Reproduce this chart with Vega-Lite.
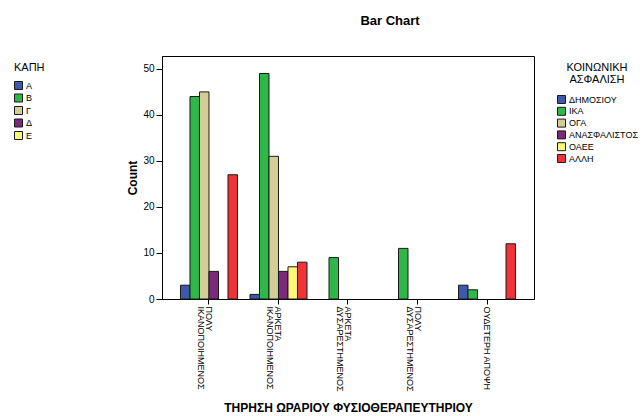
{
  "$schema": "https://vega.github.io/schema/vega-lite/v6.json",
  "autosize": {"type": "none"},
  "width": 372,
  "height": 243,
  "padding": {"left": 162, "top": 56, "right": 108, "bottom": 117},
  "background": "white",
  "config": {
    "font": "Liberation Sans",
    "view": {"fill": "#F0F0F0", "stroke": "#000000", "strokeWidth": 1}
  },
  "title": {"text": "Bar Chart", "fontSize": 13, "fontWeight": "bold", "font": "Liberation Sans", "color": "#000000", "anchor": "middle", "dx": 42, "offset": 28},
  "datasets": {
    "bars": [
      {"satisfaction": "ΠΟΛΥ ΙΚΑΝΟΠΟΙΗΜΕΝΟΣ", "insurance": "ΔΗΜΟΣΙΟΥ", "count": 3},
      {"satisfaction": "ΠΟΛΥ ΙΚΑΝΟΠΟΙΗΜΕΝΟΣ", "insurance": "ΙΚΑ", "count": 44},
      {"satisfaction": "ΠΟΛΥ ΙΚΑΝΟΠΟΙΗΜΕΝΟΣ", "insurance": "ΟΓΑ", "count": 45},
      {"satisfaction": "ΠΟΛΥ ΙΚΑΝΟΠΟΙΗΜΕΝΟΣ", "insurance": "ΑΝΑΣΦΑΛΙΣΤΟΣ", "count": 6},
      {"satisfaction": "ΠΟΛΥ ΙΚΑΝΟΠΟΙΗΜΕΝΟΣ", "insurance": "ΑΛΛΗ", "count": 27},
      {"satisfaction": "ΑΡΚΕΤΑ ΙΚΑΝΟΠΟΙΗΜΕΝΟΣ", "insurance": "ΔΗΜΟΣΙΟΥ", "count": 1},
      {"satisfaction": "ΑΡΚΕΤΑ ΙΚΑΝΟΠΟΙΗΜΕΝΟΣ", "insurance": "ΙΚΑ", "count": 49},
      {"satisfaction": "ΑΡΚΕΤΑ ΙΚΑΝΟΠΟΙΗΜΕΝΟΣ", "insurance": "ΟΓΑ", "count": 31},
      {"satisfaction": "ΑΡΚΕΤΑ ΙΚΑΝΟΠΟΙΗΜΕΝΟΣ", "insurance": "ΑΝΑΣΦΑΛΙΣΤΟΣ", "count": 6},
      {"satisfaction": "ΑΡΚΕΤΑ ΙΚΑΝΟΠΟΙΗΜΕΝΟΣ", "insurance": "ΟΑΕΕ", "count": 7},
      {"satisfaction": "ΑΡΚΕΤΑ ΙΚΑΝΟΠΟΙΗΜΕΝΟΣ", "insurance": "ΑΛΛΗ", "count": 8},
      {"satisfaction": "ΑΡΚΕΤΑ ΔΥΣΑΡΕΣΤΗΜΕΝΟΣ", "insurance": "ΙΚΑ", "count": 9},
      {"satisfaction": "ΠΟΛΥ ΔΥΣΑΡΕΣΤΗΜΕΝΟΣ", "insurance": "ΙΚΑ", "count": 11},
      {"satisfaction": "ΟΥΔΕΤΕΡΗ ΑΠΟΨΗ", "insurance": "ΔΗΜΟΣΙΟΥ", "count": 3},
      {"satisfaction": "ΟΥΔΕΤΕΡΗ ΑΠΟΨΗ", "insurance": "ΙΚΑ", "count": 2},
      {"satisfaction": "ΟΥΔΕΤΕΡΗ ΑΠΟΨΗ", "insurance": "ΑΛΛΗ", "count": 12}
    ],
    "kapi": [
      {"kapi": "Α"}, {"kapi": "Β"}, {"kapi": "Γ"}, {"kapi": "Δ"}, {"kapi": "Ε"}
    ]
  },
  "layer": [
    {
      "data": {"name": "bars"},
      "mark": {"type": "bar", "stroke": "#1a1a1a", "strokeWidth": 1},
      "encoding": {
        "x": {
          "field": "satisfaction", "type": "nominal",
          "sort": ["ΠΟΛΥ ΙΚΑΝΟΠΟΙΗΜΕΝΟΣ", "ΑΡΚΕΤΑ ΙΚΑΝΟΠΟΙΗΜΕΝΟΣ", "ΑΡΚΕΤΑ ΔΥΣΑΡΕΣΤΗΜΕΝΟΣ", "ΠΟΛΥ ΔΥΣΑΡΕΣΤΗΜΕΝΟΣ", "ΟΥΔΕΤΕΡΗ ΑΠΟΨΗ"],
          "scale": {"paddingInner": 0.18, "paddingOuter": 0.266},
          "axis": {
            "title": "ΤΗΡΗΣΗ ΩΡΑΡΙΟΥ ΦΥΣΙΟΘΕΡΑΠΕΥΤΗΡΙΟΥ",
            "titleFontSize": 12, "titleFontWeight": "bold", "titleColor": "#000000", "titlePadding": 11,
            "labelAngle": 90, "labelAlign": "left", "labelBaseline": "middle",
            "labelFontSize": 9, "labelColor": "#000000", "labelPadding": 2, "labelLineHeight": 8,
            "labelExpr": "datum.label == 'ΟΥΔΕΤΕΡΗ ΑΠΟΨΗ' ? datum.label : split(datum.label, ' ')",
            "tickSize": 5, "tickColor": "#000000", "domainColor": "#000000", "labelLimit": 200
          }
        },
        "xOffset": {
          "field": "insurance", "type": "nominal",
          "scale": {"domain": ["ΔΗΜΟΣΙΟΥ", "ΙΚΑ", "ΟΓΑ", "ΑΝΑΣΦΑΛΙΣΤΟΣ", "ΟΑΕΕ", "ΑΛΛΗ"], "paddingInner": 0, "paddingOuter": 0}
        },
        "y": {
          "field": "count", "type": "quantitative",
          "scale": {"domain": [0, 52.8], "nice": false},
          "axis": {
            "title": "Count", "titleFontSize": 12, "titleFontWeight": "bold", "titleColor": "#000000", "titlePadding": 3,
            "values": [0, 10, 20, 30, 40, 50], "grid": false,
            "labelFontSize": 10, "labelColor": "#000000", "tickSize": 6, "tickColor": "#000000", "domainColor": "#000000", "labelPadding": 2
          }
        },
        "color": {
          "field": "insurance", "type": "nominal",
          "scale": {"domain": ["ΔΗΜΟΣΙΟΥ", "ΙΚΑ", "ΟΓΑ", "ΑΝΑΣΦΑΛΙΣΤΟΣ", "ΟΑΕΕ", "ΑΛΛΗ"], "range": ["#3E58AC", "#2EB848", "#D3CE97", "#7C287D", "#FBF873", "#EF3338"]},
          "legend": {
            "title": ["ΚΟΙΝΩΝΙΚΗ", "ΑΣΦΑΛΙΣΗ"], "orient": "none", "legendX": 395, "legendY": 6,
            "titleFontSize": 11, "titleFontWeight": "normal", "titleColor": "#000000", "titleAnchor": "middle", "titleAlign": "center", "titleLineHeight": 12,
            "labelFontSize": 9, "labelColor": "#000000", "labelLimit": 200, "labelOffset": 3,
            "symbolType": "square", "symbolSize": 64, "symbolStrokeColor": "#1a1a1a", "symbolStrokeWidth": 1, "symbolOpacity": 1,
            "rowPadding": -1.2, "titlePadding": 10
          }
        }
      }
    },
    {
      "data": {"name": "kapi"},
      "mark": {"type": "point", "shape": "square", "filled": true, "opacity": 0},
      "encoding": {
        "fill": {
          "field": "kapi", "type": "nominal",
          "scale": {"domain": ["Α", "Β", "Γ", "Δ", "Ε"], "range": ["#3E58AC", "#2EB848", "#D3CE97", "#7C287D", "#FBF873"]},
          "legend": {
            "title": "ΚΑΠΗ", "orient": "none", "legendX": -148, "legendY": 6,
            "titleFontSize": 11, "titleFontWeight": "normal", "titleColor": "#000000",
            "labelFontSize": 9, "labelColor": "#000000", "labelOffset": 3,
            "symbolType": "square", "symbolSize": 64, "symbolStrokeColor": "#1a1a1a", "symbolStrokeWidth": 1, "symbolOpacity": 1,
            "rowPadding": -0.5, "titlePadding": 8
          }
        }
      }
    }
  ],
  "resolve": {"scale": {"color": "independent", "fill": "independent"}}
}
